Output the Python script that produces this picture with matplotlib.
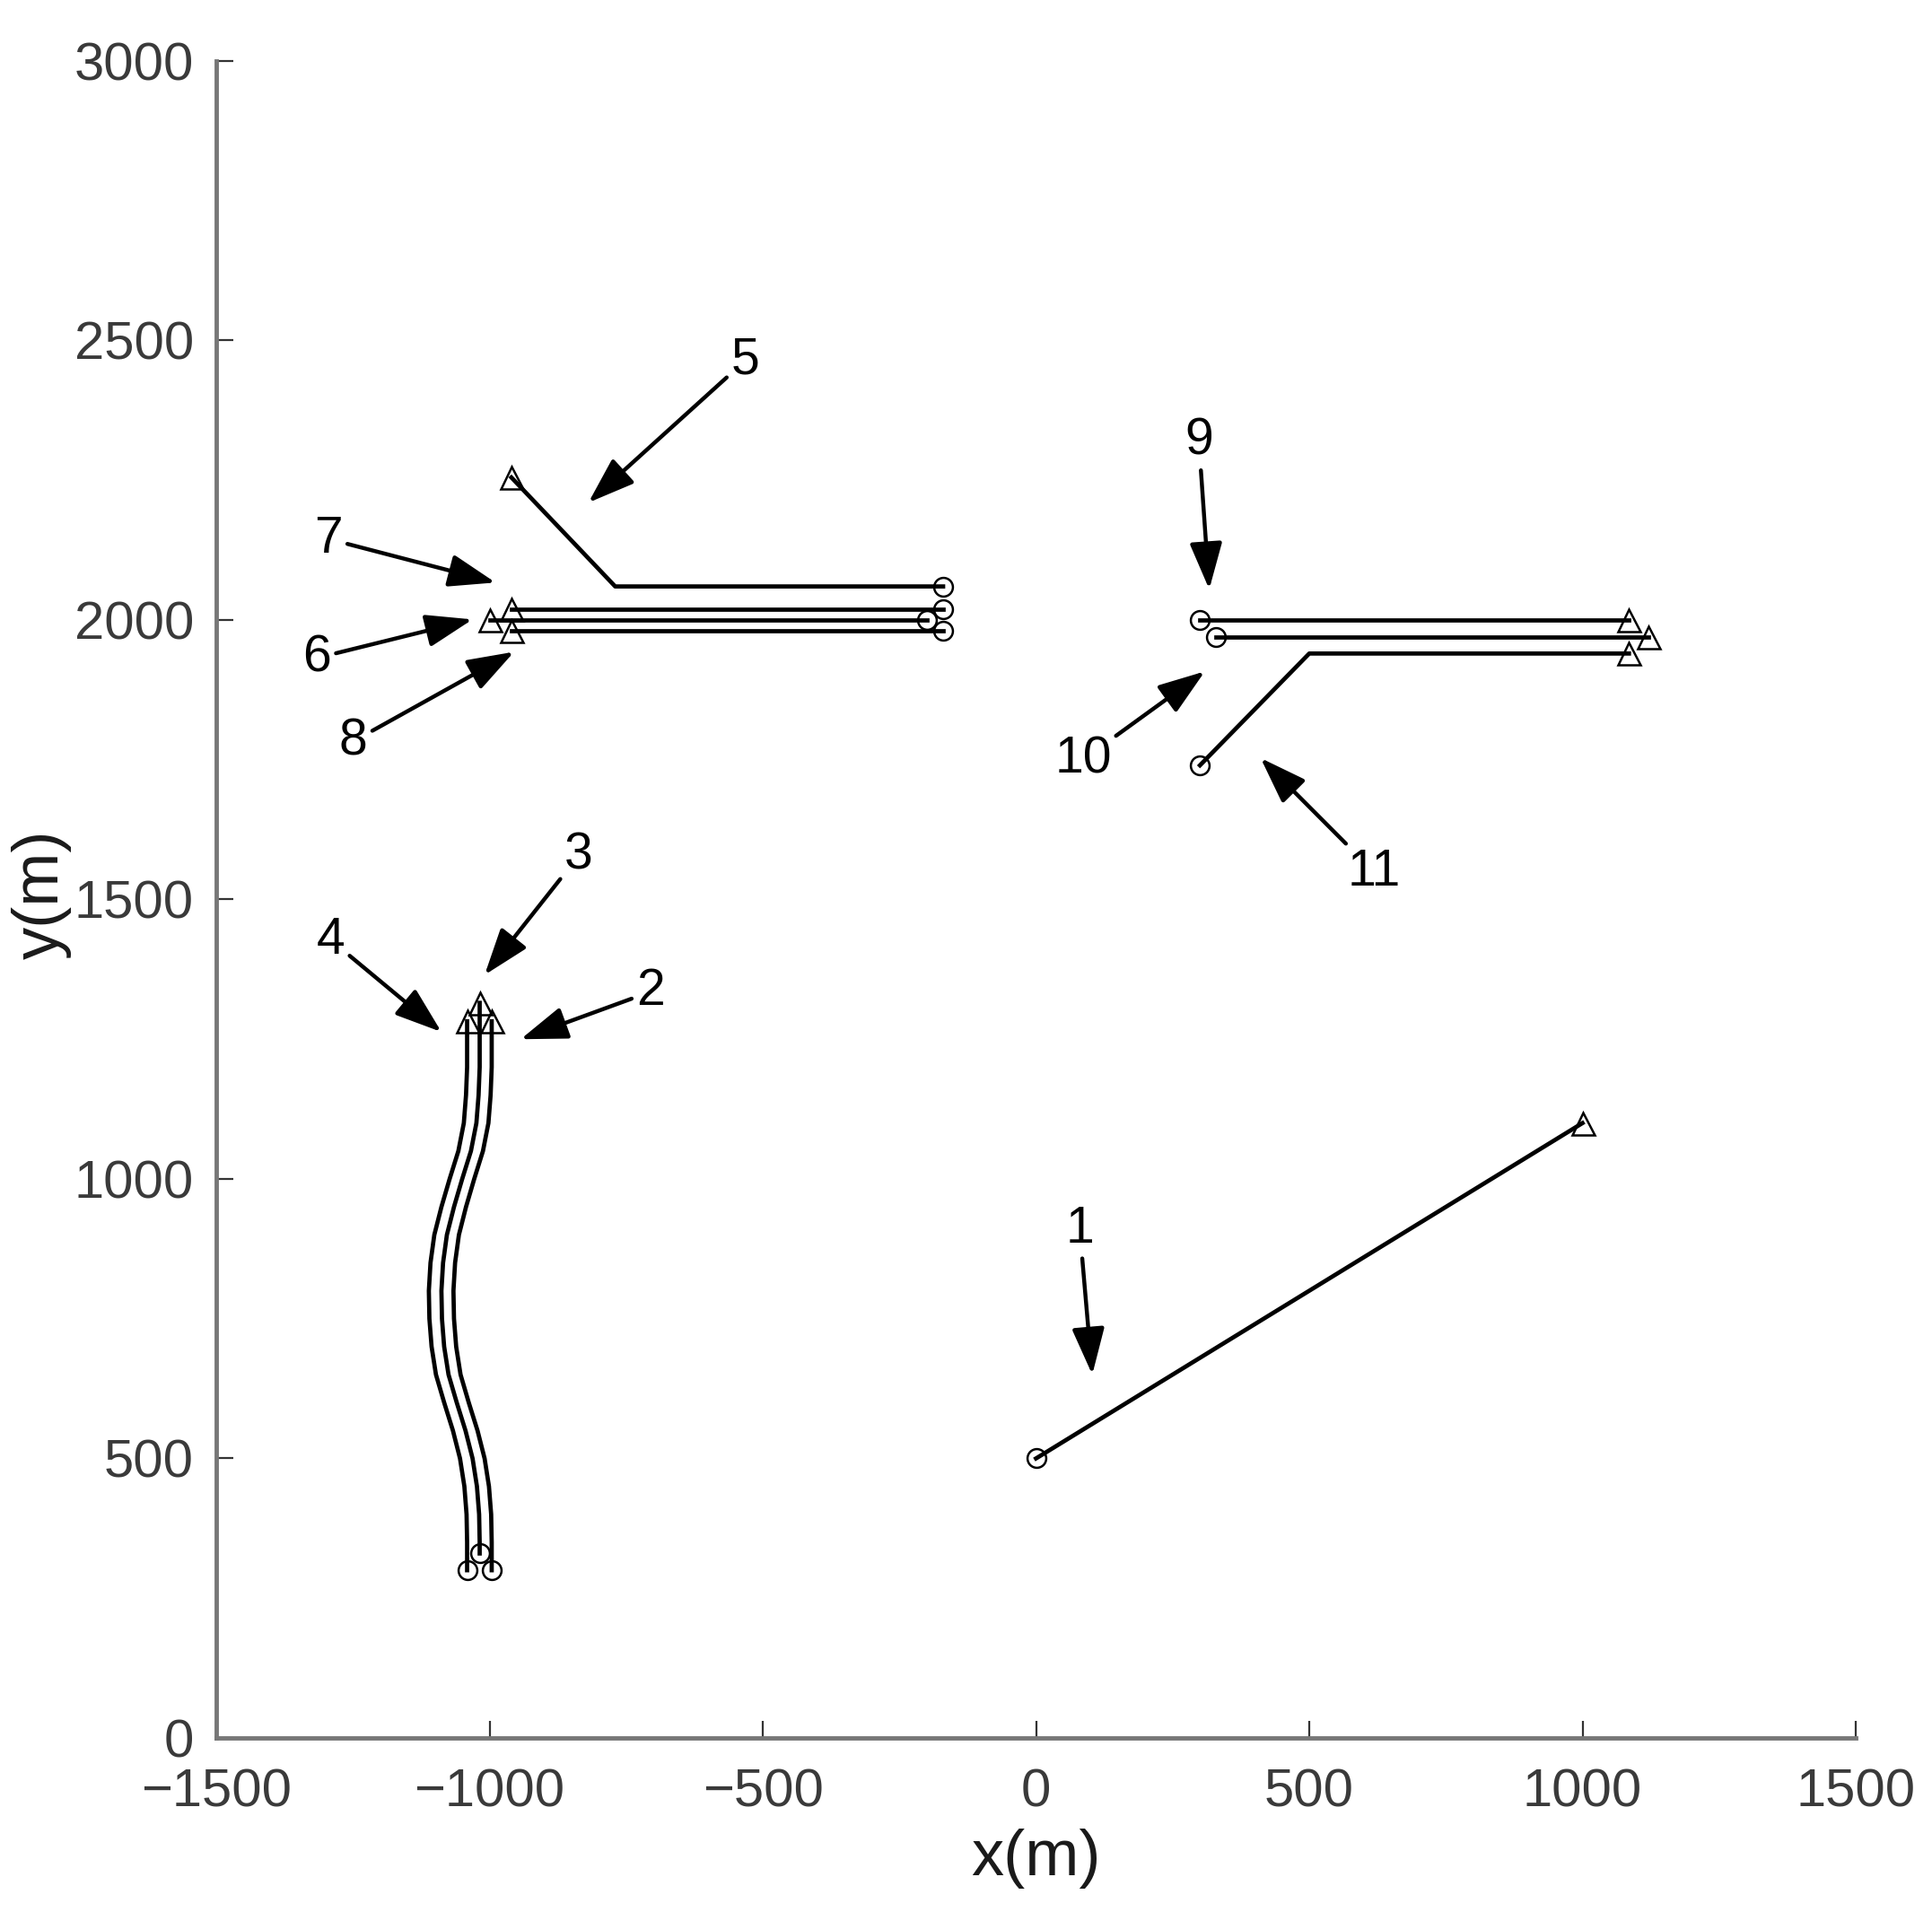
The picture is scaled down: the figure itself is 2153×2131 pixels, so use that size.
import matplotlib
matplotlib.use("Agg")
import matplotlib.pyplot as plt

plt.rcParams['font.family'] = ['Liberation Sans', 'DejaVu Sans']

# ---------------- data ----------------
# trajectory 1 (straight)
t1_x = [0, 1000]
t1_y = [500, 1100]

# trajectories 2-4 (S-shaped group)
s_y = [300, 350, 400, 450, 500, 550, 600, 650, 700, 750, 800, 850, 900, 950,
       1000, 1050, 1100, 1150, 1200, 1282]
t2_x = [-996, -996, -997, -1001, -1009, -1022, -1038, -1053, -1061, -1065, -1066, -1063,
        -1056, -1043, -1028, -1012, -1002, -998, -996, -996]
t4_x = [-1041, -1041, -1042, -1046, -1054, -1067, -1083, -1098, -1106, -1110, -1111, -1108,
        -1101, -1088, -1073, -1057, -1047, -1043, -1041, -1041]
t3_y = [330, 350, 400, 450, 500, 550, 600, 650, 700, 750, 800, 850, 900, 950,
        1000, 1050, 1100, 1150, 1200, 1315]
t3_x = [-1018, -1018, -1019, -1023, -1031, -1044, -1060, -1075, -1083, -1087, -1088, -1085,
        -1078, -1065, -1050, -1034, -1024, -1020, -1018, -1018]

# trajectories 5-8 (upper left group)
t5_x = [-170, -770, -960]
t5_y = [2060, 2060, 2255]
t6_x = [-200, -1000]
t6_y = [2000, 2000]
t7_x = [-170, -960]
t7_y = [2020, 2020]
t8_x = [-170, -960]
t8_y = [1980, 1980]

# trajectories 9-11 (upper right group)
t9_x = [300, 1085]
t9_y = [2000, 2000]
t10_x = [330, 1120]
t10_y = [1970, 1970]
t11_x = [300, 500, 1085]
t11_y = [1740, 1940, 1940]

trajectories = [(t1_x, t1_y), (t2_x, s_y), (t3_x, t3_y), (t4_x, s_y),
                (t5_x, t5_y), (t6_x, t6_y), (t7_x, t7_y), (t8_x, t8_y),
                (t9_x, t9_y), (t10_x, t10_y), (t11_x, t11_y)]

# annotation labels: text position and arrow tip
ann_labels = ['1', '2', '3', '4', '5', '6', '7', '8', '9', '10', '11']
ann_text_x = [80, -705, -837, -1290, -532, -1316, -1295, -1249, 298, 86, 619]
ann_text_y = [910, 1335, 1578, 1427, 2464, 1932, 2145, 1783, 2320, 1750, 1549]
ann_tip_x = [103, -943, -1009, -1088, -819, -1031, -989, -955, 317, 309, 411]
ann_tip_y = [650, 1250, 1365, 1263, 2210, 2001, 2067, 1943, 2055, 1908, 1753]

x_ticks = [-1500, -1000, -500, 0, 500, 1000, 1500]
y_ticks = [0, 500, 1000, 1500, 2000, 2500, 3000]

# ---------------- figure ----------------
fig = plt.figure(figsize=(21.53, 21.31), dpi=100)
ax = fig.add_axes([0.11194, 0.09104, 0.84859, 0.87705])

for xs, ys in trajectories:
    ax.plot(xs, ys, color='black', lw=3.4, solid_joinstyle='round', zorder=2)
    ax.plot(xs[0], ys[0], marker='o', ms=15, mfc='none', mec='black', mew=1.8, zorder=3)
    ax.plot(xs[-1], ys[-1], marker='^', ms=18, mfc='none', mec='black', mew=1.8, zorder=3)

for lab, tx, ty, px, py in zip(ann_labels, ann_text_x, ann_text_y, ann_tip_x, ann_tip_y):
    ax.annotate(lab, xy=(px, py), xytext=(tx, ty), ha='center', va='center',
                fontsize=41, color='black',
                arrowprops=dict(arrowstyle='-|>,head_length=0.8,head_width=0.28',
                                mutation_scale=40, color='black', lw=3.2,
                                shrinkA=2, shrinkB=0))

ax.set_xlim(-1500, 1500)
ax.set_ylim(0, 3000)
ax.set_xticks(x_ticks)
ax.set_yticks(y_ticks)

for s in ['top', 'right']:
    ax.spines[s].set_visible(False)
for s in ['left', 'bottom']:
    ax.spines[s].set_color('#777777')
    ax.spines[s].set_linewidth(3.5)

ax.tick_params(axis='both', direction='in', length=14, width=1.6, color='#333333',
               labelsize=43, labelcolor='#3a3a3a')
ax.tick_params(axis='x', pad=24)
ax.tick_params(axis='y', pad=18)

ax.set_xlabel('x(m)', fontsize=52, color='#1a1a1a')
ax.set_ylabel('y(m)', fontsize=52, color='#1a1a1a')
ax.xaxis.set_label_coords(0.5, -0.054)
ax.yaxis.set_label_coords(-0.088, 0.503)

fig.savefig('out.png', dpi=100)
